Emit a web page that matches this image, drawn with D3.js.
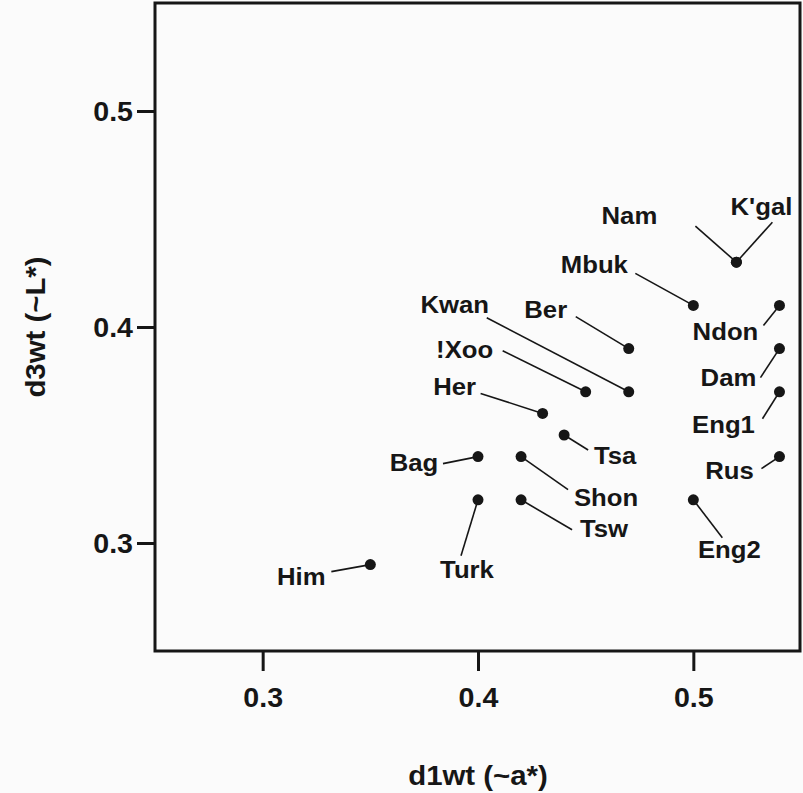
<!DOCTYPE html>
<html>
<head>
<meta charset="utf-8">
<script src="https://cdn.jsdelivr.net/npm/d3@7"></script>
<style>
  html, body { margin: 0; padding: 0; background: #fbfbfb; }
  svg { display: block; }
  text { font-family: "Liberation Sans", Arial, Helvetica, sans-serif; font-weight: bold; fill: #161616; }
</style>
</head>
<body>
<svg id="chart" width="803" height="793"></svg>
<script>
// Populations and their weighted d1 / d3 scores
const names = ["Him", "Turk", "Bag", "Tsw", "Shon", "Tsa", "Her", "!Xoo", "Kwan",
               "Ber", "Mbuk", "Nam", "K'gal", "Ndon", "Dam", "Eng1", "Rus", "Eng2"];
const d1wt = [0.35, 0.40, 0.40, 0.42, 0.42, 0.44, 0.43, 0.45, 0.47,
              0.47, 0.50, 0.52, 0.52, 0.54, 0.54, 0.54, 0.54, 0.50];
const d3wt = [0.29, 0.32, 0.34, 0.32, 0.34, 0.35, 0.36, 0.37, 0.37,
              0.39, 0.41, 0.43, 0.43, 0.41, 0.39, 0.37, 0.34, 0.32];
const xTicks = [0.3, 0.4, 0.5];
const yTicks = [0.3, 0.4, 0.5];

// Label placement (pixels relative to the point): text anchor and leader end
const labelLayout = {
  "Him":   { tx: -69, ty: 20,  lx: -39,  ly: 7 },
  "Turk":  { tx: -11, ty: 78,  lx: -17,  ly: 56 },
  "Bag":   { tx: -64, ty: 14,  lx: -35,  ly: 7 },
  "Tsw":   { tx: 83,  ty: 37,  lx: 51,   ly: 30 },
  "Shon":  { tx: 85,  ty: 49,  lx: 47,   ly: 33 },
  "Tsa":   { tx: 51,  ty: 29,  lx: 24,   ly: 15 },
  "Her":   { tx: -88, ty: -18, lx: -62,  ly: -20 },
  "!Xoo":  { tx: -121, ty: -34, lx: -83, ly: -41 },
  "Kwan":  { tx: -174, ty: -79, lx: -142, ly: -74 },
  "Ber":   { tx: -83, ty: -31, lx: -53,  ly: -32 },
  "Mbuk":  { tx: -99, ty: -32, lx: -58,  ly: -32 },
  "Nam":   { tx: -107, ty: -38, lx: -41, ly: -36 },
  "K'gal": { tx: 25,  ty: -47, lx: 36,   ly: -40 },
  "Ndon":  { tx: -54, ty: 35,  lx: -16,  ly: 20 },
  "Dam":   { tx: -51, ty: 37,  lx: -19,  ly: 29 },
  "Eng1":  { tx: -56, ty: 41,  lx: -17,  ly: 27 },
  "Rus":   { tx: -50, ty: 22,  lx: -18,  ly: 12 },
  "Eng2":  { tx: 36,  ty: 58,  lx: 29,   ly: 38 }
};

const points = names.map((n, i) => ({ name: n, x: d1wt[i], y: d3wt[i] }));

const svg = d3.select("#chart");
const ink = "#161616";
const plotLeft = 155, plotRight = 801, plotTop = 3, plotBottom = 651;

const x = d3.scaleLinear().domain([0.25, 0.55]).range([plotLeft, plotRight]);
const y = d3.scaleLinear().domain([0.25, 0.55]).range([plotBottom, plotTop]);

// Axes: ticks only, the frame is drawn separately
const xAxis = svg.append("g")
  .attr("transform", `translate(0,${plotBottom})`)
  .call(d3.axisBottom(x).tickValues(xTicks).tickFormat(d3.format(".1f")).tickSize(20).tickPadding(0));
xAxis.select(".domain").remove();
xAxis.selectAll(".tick line").attr("stroke", ink).attr("stroke-width", 3);
xAxis.selectAll(".tick text")
  .attr("y", null).attr("dy", null)
  .attr("transform", "translate(0,56) scale(1.06,1)")
  .style("font-size", "27px").attr("fill", ink);

const yAxis = svg.append("g")
  .attr("transform", `translate(${plotLeft},0)`)
  .call(d3.axisLeft(y).tickValues(yTicks).tickFormat(d3.format(".1f")).tickSize(18).tickPadding(0));
yAxis.select(".domain").remove();
yAxis.selectAll(".tick line").attr("stroke", ink).attr("stroke-width", 3);
yAxis.selectAll(".tick text")
  .attr("x", null).attr("dy", "0.36em")
  .attr("transform", "translate(-22,0) scale(1.06,1)")
  .style("font-size", "27px").attr("fill", ink);

// Plot frame
svg.append("rect")
  .attr("x", plotLeft).attr("y", plotTop)
  .attr("width", plotRight - plotLeft - 1).attr("height", plotBottom - plotTop)
  .attr("fill", "none").attr("stroke", ink).attr("stroke-width", 3);

// Axis titles
svg.append("text")
  .attr("transform", `translate(${(plotLeft + plotRight) / 2},785) scale(1.05,1)`)
  .attr("text-anchor", "middle")
  .style("font-size", "28px")
  .text("d1wt (~a*)");

svg.append("text")
  .attr("transform", `translate(45,${y(0.4)}) rotate(-90) scale(1.05,1)`)
  .attr("text-anchor", "middle")
  .style("font-size", "28px")
  .text("d3wt (~L*)");

// Leader lines
svg.append("g").selectAll("line")
  .data(points)
  .join("line")
  .attr("x1", d => x(d.x)).attr("y1", d => y(d.y))
  .attr("x2", d => x(d.x) + labelLayout[d.name].lx)
  .attr("y2", d => y(d.y) + labelLayout[d.name].ly)
  .attr("stroke", ink).attr("stroke-width", 1.6);

// Points
svg.append("g").selectAll("circle")
  .data(points)
  .join("circle")
  .attr("cx", d => x(d.x)).attr("cy", d => y(d.y))
  .attr("r", 5.5).attr("fill", ink);

// Point labels
svg.append("g").selectAll("text")
  .data(points)
  .join("text")
  .attr("transform", d => `translate(${x(d.x) + labelLayout[d.name].tx},${y(d.y) + labelLayout[d.name].ty}) scale(1.05,1)`)
  .attr("text-anchor", "middle")
  .style("font-size", "24.5px")
  .text(d => d.name);
</script>
</body>
</html>
